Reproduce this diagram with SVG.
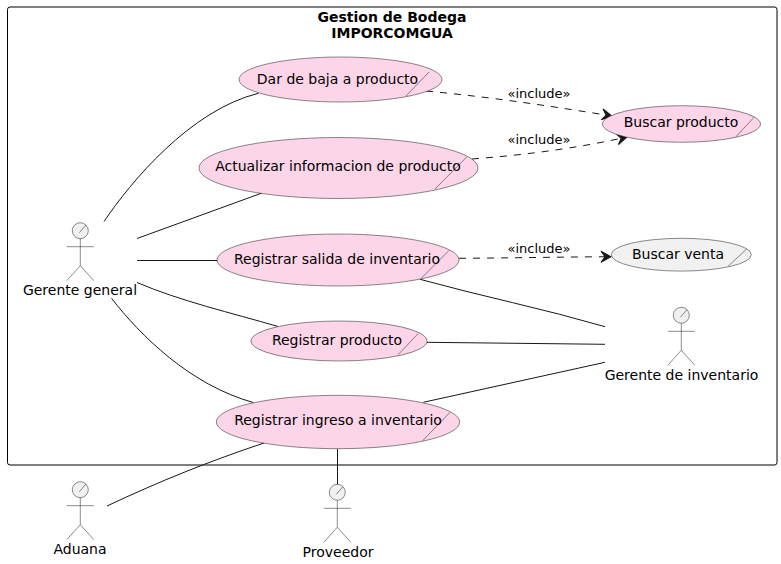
<svg xmlns="http://www.w3.org/2000/svg" width="781" height="564" viewBox="0 0 781 564">
<style>
text{font-family:"DejaVu Sans",sans-serif;font-size:14px;fill:#000;text-anchor:middle}
.t{font-weight:bold}
.l{font-size:13px}
.c{fill:none;stroke:#181818;stroke-width:1}
.d{stroke-dasharray:7 7}
.u{fill:#FCD5E8;stroke:#181818;stroke-width:.5}
.g{fill:#F1F1F1;stroke:#181818;stroke-width:.5}
.s{fill:none;stroke:#181818;stroke-width:.5}
</style>
<defs>
<marker id="a" markerUnits="userSpaceOnUse" markerWidth="16" markerHeight="14" refX="11" refY="7" orient="auto">
<path d="M1 1.500 L11 7 L1 12.500 L5 7 Z" fill="#181818" stroke="#181818" stroke-width="1"/>
</marker>
<g id="act">
<circle cx="0" cy="0" r="8" class="g"/>
<path class="s" d="M5.500 -5.500 L-1 2 M0 8 V35 M-13.500 16 H13.500 M-13.500 50 L0 35 L13.500 50"/>
</g>
</defs>
<rect id="boundary" x="7.500" y="7" width="769.500" height="458" rx="2.500" fill="none" stroke="#000" stroke-width="1"/>
<text class="t" x="392" y="22">Gestion de Bodega</text>
<text class="t" x="392" y="38">IMPORCOMGUA</text>
<g id="connectors">
<path class="c" d="M104 221.500 C130 183 190 110 258.500 93.300"/>
<path class="c" d="M137 238.500 L262 193"/>
<path class="c" d="M137 260.500 H217"/>
<path class="c" d="M137 282.500 C180 301 232 313 278 326.500"/>
<path class="c" d="M111.500 298.300 C140 335 190 385 253.300 402.500"/>
<path class="c" d="M420 279.300 C480 296 545 309 605 326.700"/>
<path class="c" d="M427 342.300 L605 344.300"/>
<path class="c" d="M423.300 402.300 L605 362.300"/>
<path class="c" d="M107 506 C160 481 210 461 264 443"/>
<path class="c" d="M337.500 449 V485"/>
<path class="c d" marker-end="url(#a)" d="M426 91 C490 97 550 106 612 116"/>
<path class="c d" marker-end="url(#a)" d="M472 159 C525 155 578 148 627 137"/>
<path class="c d" marker-end="url(#a)" d="M459 258.300 C510 258 560 257 611 256.700"/>
<text class="l" x="539" y="98">«include»</text>
<text class="l" x="539" y="144">«include»</text>
<text class="l" x="539" y="253">«include»</text>
</g>
<g id="uc-baja"><ellipse class="u" cx="340.500" cy="79.500" rx="101.500" ry="22.500"/><path class="s" d="M429 72 L406 96"/><text x="337.500" y="84">Dar de baja a producto</text></g>
<g id="uc-actualizar"><ellipse class="u" cx="338.500" cy="168" rx="139.500" ry="30.500"/><path class="s" d="M466.700 157 L435 189"/><text x="338" y="171">Actualizar informacion de producto</text></g>
<g id="uc-salida"><ellipse class="u" cx="338" cy="260" rx="121" ry="26"/><path class="s" d="M449 250.500 L421.500 278"/><text x="337" y="264">Registrar salida de inventario</text></g>
<g id="uc-producto"><ellipse class="u" cx="339" cy="341" rx="88" ry="20"/><path class="s" d="M418 333.700 L398 354.800"/><text x="337" y="344.500">Registrar producto</text></g>
<g id="uc-ingreso"><ellipse class="u" cx="338" cy="422" rx="121.700" ry="26.700"/><path class="s" d="M450 412.300 L422.700 440.700"/><text x="338" y="425">Registrar ingreso a inventario</text></g>
<g id="uc-buscar-producto"><ellipse class="u" cx="681.500" cy="124" rx="79" ry="18.300"/><path class="s" d="M754 117.300 L736 136.700"/><text x="681" y="127">Buscar producto</text></g>
<g id="uc-buscar-venta"><ellipse class="g" cx="681.300" cy="254.700" rx="70" ry="16.400"/><path class="s" d="M746.700 249 L728.300 266"/><text x="678" y="259">Buscar venta</text></g>
<g id="actor-general"><use href="#act" x="80.300" y="230.700"/><text x="80" y="295">Gerente general</text></g>
<g id="actor-inventario"><use href="#act" x="681.300" y="315.300"/><text x="681.500" y="380">Gerente de inventario</text></g>
<g id="actor-aduana"><use href="#act" x="80.300" y="489.700"/><text x="80" y="554">Aduana</text></g>
<g id="actor-proveedor"><use href="#act" x="337.300" y="492.300"/><text x="338" y="557">Proveedor</text></g>
</svg>
